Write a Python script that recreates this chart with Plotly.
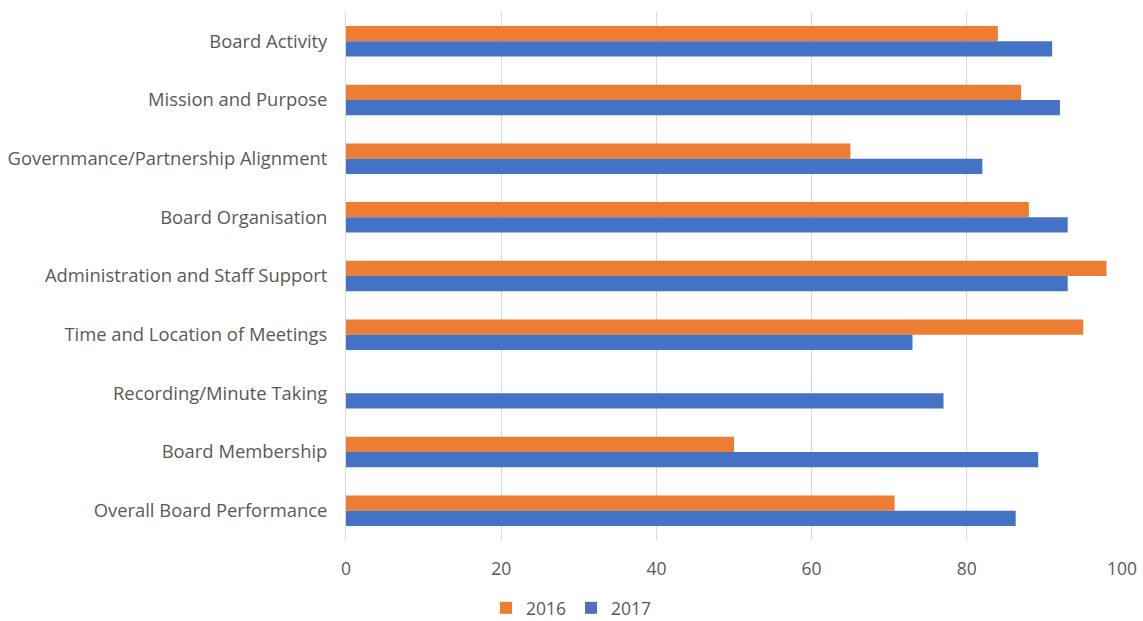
import plotly.graph_objects as go

categories = [
    "Board Activity",
    "Mission and Purpose",
    "Governmance/Partnership Alignment",
    "Board Organisation",
    "Administration and Staff Support",
    "Time and Location of Meetings",
    "Recording/Minute Taking",
    "Board Membership",
    "Overall Board Performance",
]
values_2016 = [84, 87, 65, 88, 98, 95, None, 50, 70.7]
values_2017 = [91, 92, 82, 93, 93, 73, 77, 89.2, 86.3]
x_ticks = [0, 20, 40, 60, 80, 100]

FONT = "'Open Sans', Lato, sans-serif"
GREY = "#595959"

fig = go.Figure()
fig.add_trace(go.Bar(name="2016", y=categories, x=values_2016, orientation="h",
                     marker=dict(color="#ED7D31", line=dict(width=0))))
fig.add_trace(go.Bar(name="2017", y=categories, x=values_2017, orientation="h",
                     marker=dict(color="#4472C4", line=dict(width=0))))

fig.update_layout(
    width=1143, height=621,
    margin=dict(l=346, r=21, t=12, b=81, autoexpand=False),
    barmode="group", bargap=0.48, bargroupgap=0,
    plot_bgcolor="white", paper_bgcolor="white",
    font=dict(family=FONT, size=17, color=GREY),
    showlegend=True,
    legend=dict(orientation="h", xref="container", yref="container",
                x=0.5, xanchor="center", y=0.021, yanchor="middle",
                font=dict(size=17.5, color=GREY), traceorder="normal",
                itemwidth=30),
    xaxis=dict(range=[0, 100], tickvals=x_ticks, showgrid=True,
               gridcolor="#d9d9d9", gridwidth=1, zeroline=False,
               showline=False, ticks="", ticklabelstandoff=16,
               automargin=False, tickfont=dict(size=17.5)),
    yaxis=dict(autorange="reversed", showgrid=False, zeroline=False,
               showline=True, linecolor="#d9d9d9", linewidth=1,
               ticks="", ticklabelstandoff=14, automargin=False,
               tickfont=dict(size=18.4)),
)

fig.write_html("out.html")
